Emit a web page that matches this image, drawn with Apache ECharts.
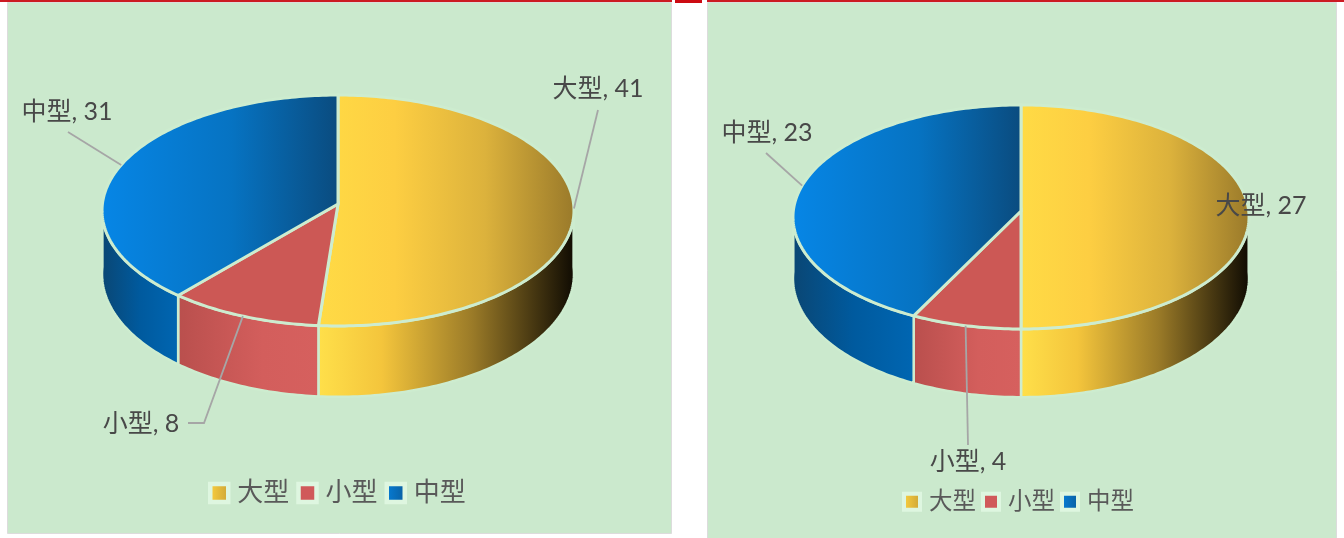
<!DOCTYPE html>
<html>
<head>
<meta charset="utf-8">
<style>
  html, body { margin: 0; padding: 0; background: #fff; }
  #main { width: 1344px; height: 538px; }
</style>
<script src="https://cdn.jsdelivr.net/npm/echarts@6/dist/echarts.min.js"></script>
</head>
<body>
<div id="main"></div>
<script>
const categories = ['大型', '小型', '中型']
const valuesLeft = [41, 8, 31]
const valuesRight = [27, 4, 23]

const chart = echarts.init(document.getElementById('main'))
const LG = echarts.graphic.LinearGradient
const FONT = "Lato, 'Noto Sans CJK SC', sans-serif"
const RIM = '#cdeccf'

// 每个饼的透视参数（圆心、半径、透视系数、厚度）
const pieLeft = { cx: 338, cy: 204, rx: 235.6, ry: 115.1, k: 0.0563, depth: 63, ryBottom: 122.5 }
const pieRight = { cx: 1021, cy: 211, rx: 227.7, ry: 111.7, k: 0.0535, depth: 61, ryBottom: 118.5 }

// 标签位置和引线折点
const labelsLeft = [
  { x: 598, y: 89, align: 'center', via: [[598, 110]] },
  { x: 141, y: 424, align: 'center', via: [[204, 423], [188, 423]] },
  { x: 67, y: 112, align: 'center', via: [[68, 132]] }
]
const labelsRight = [
  { x: 1261, y: 206, align: 'center', via: null },
  { x: 968, y: 462, align: 'center', via: [[968, 445]] },
  { x: 767, y: 133, align: 'center', via: [[766, 153]] }
]

const topFill = [
  [[0, '#ffdb45'], [0.3, '#fdce42'], [0.65, '#dcb23c'], [1, '#99792a']],
  [[0, '#cc5855'], [1, '#cc5855']],
  [[0, '#0686e6'], [0.55, '#0673c2'], [1, '#0a4b7e']]
]
const wallFill = [
  [[0, '#ffe04a'], [0.25, '#f4c53c'], [0.6, '#9b7b28'], [1, '#0e0a02']],
  [[0, '#b94f4d'], [0.6, '#d35e5c'], [1, '#d6605e']],
  [[0, '#0a4673'], [0.5, '#005a9e'], [1, '#0066b2']]
]
const legendFill = [
  [[0, '#fdd23f'], [1, '#c9a136']],
  [[0, '#d0595a'], [1, '#d0595a']],
  [[0, '#067fda'], [1, '#0a5c9c']]
]

function rimPoint(pie, deg, bottom) {
  const a = (deg * Math.PI) / 180
  const u = Math.sin(a)
  const v = -Math.cos(a)
  const d = 1 - pie.k * v
  const x = pie.cx + (pie.rx * u) / d
  const y = bottom
    ? pie.cy + pie.depth + (pie.ryBottom * v) / d
    : pie.cy + (pie.ry * v) / d
  return [x, y]
}

function arc(pie, from, to, bottom) {
  const pts = []
  const n = Math.max(2, Math.ceil(Math.abs(to - from)))
  for (let i = 0; i <= n; i++) {
    pts.push(rimPoint(pie, from + ((to - from) * i) / n, bottom))
  }
  return pts
}

function buildSeries(pie, values, labels) {
  const total = values.reduce((a, b) => a + b, 0)
  const series = []
  let sum = 0
  values.forEach((value, i) => {
    const row = [sum, sum + value, total, value]
    sum += value
    // 侧面
    series.push({
      name: categories[i],
      type: 'custom',
      coordinateSystem: 'none',
      z: 3,
      silent: true,
      data: [row],
      renderItem: (params, api) => {
        const from = Math.max((api.value(0) / api.value(2)) * 360, 90)
        const to = Math.min((api.value(1) / api.value(2)) * 360, 270)
        if (to <= from) return null
        const points = arc(pie, from, to, false).concat(arc(pie, to, from, true))
        return {
          type: 'polygon',
          shape: { points },
          style: { fill: new LG(0, 0, 1, 0, wallFill[i].map(([offset, color]) => ({ offset, color }))), stroke: RIM, lineWidth: 2.5 }
        }
      }
    })
    // 顶面
    series.push({
      name: categories[i],
      type: 'custom',
      coordinateSystem: 'none',
      z: 4,
      silent: true,
      data: [row],
      renderItem: (params, api) => {
        const from = (api.value(0) / api.value(2)) * 360
        const to = (api.value(1) / api.value(2)) * 360
        const points = [[pie.cx, pie.cy]].concat(arc(pie, from, to, false))
        return {
          type: 'polygon',
          shape: { points },
          style: { fill: new LG(0, 0, 1, 0, topFill[i].map(([offset, color]) => ({ offset, color }))), stroke: RIM, lineWidth: 3 }
        }
      }
    })
    // 标签和引线
    series.push({
      name: categories[i],
      type: 'custom',
      coordinateSystem: 'none',
      z: 5,
      silent: true,
      data: [row],
      renderItem: (params, api) => {
        const mid = (((api.value(0) + api.value(1)) / 2) / api.value(2)) * 360
        const lab = labels[i]
        const children = []
        if (lab.via) {
          children.push({
            type: 'polyline',
            shape: { points: [rimPoint(pie, mid, false)].concat(lab.via) },
            style: { fill: 'none', stroke: '#a6a6a6', lineWidth: 1.8 }
          })
        }
        children.push({
          type: 'text',
          style: {
            x: lab.x,
            y: lab.y,
            text: categories[i] + ', ' + api.value(3),
            align: lab.align,
            verticalAlign: 'middle',
            fontFamily: FONT,
            fontSize: 25,
            fill: '#484848'
          }
        })
        return { type: 'group', children }
      }
    })
  })
  return series
}

function buildLegend(left, top, fontSize, size, border, gap) {
  return {
    left,
    top,
    padding: 0,
    icon: 'rect',
    itemWidth: size,
    itemHeight: size,
    itemGap: gap,
    selectedMode: false,
    textStyle: { fontFamily: FONT, fontSize, color: '#595959', padding: [0, 0, 0, 4] },
    data: categories.map((name, i) => ({
      name,
      itemStyle: {
        color: new LG(0, 0, 1, 0, legendFill[i].map(([offset, color]) => ({ offset, color }))),
        borderColor: '#def6e0',
        borderWidth: border
      }
    }))
  }
}

function panel(x, y, w, h) {
  return { type: 'rect', shape: { x, y, width: w, height: h }, style: { fill: '#cbe9cd', stroke: '#dcdcdc', lineWidth: 1 }, z: 0 }
}

const option = {
  animation: false,
  backgroundColor: '#ffffff',
  graphic: [
    panel(7.5, 2.5, 664, 531),
    panel(707.5, 2.5, 629, 540),
    { type: 'rect', shape: { x: 0, y: 0, width: 672, height: 2 }, style: { fill: '#cc1a22' }, z: 1 },
    { type: 'rect', shape: { x: 675, y: 0, width: 27, height: 3 }, style: { fill: '#cc0a12' }, z: 1 },
    { type: 'rect', shape: { x: 707, y: 0, width: 637, height: 2 }, style: { fill: '#cc1a22' }, z: 1 }
  ],
  legend: [
    buildLegend(208, 480, 26, 18, 4.5, 7),
    buildLegend(902, 490, 23.5, 16, 4, 5)
  ],
  series: buildSeries(pieLeft, valuesLeft, labelsLeft).concat(buildSeries(pieRight, valuesRight, labelsRight))
}
chart.setOption(option)
</script>
</body>
</html>
